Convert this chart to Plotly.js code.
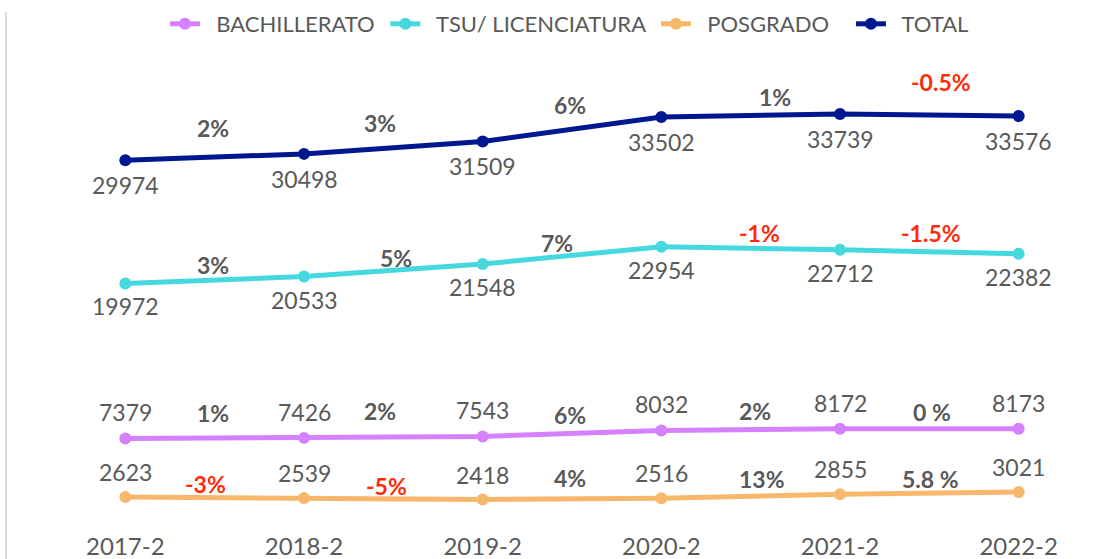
<!DOCTYPE html>
<html>
<head>
<meta charset="utf-8">
<script src="https://cdn.plot.ly/plotly-3.0.1.min.js"></script>
<style>
  html, body { margin: 0; padding: 0; background: #fff; }
  #chart { width: 1110px; height: 559px; position: relative; }
  #edge { position: absolute; left: 5px; top: 12px; width: 2px; height: 547px; background: #d9d9d9; }
</style>
</head>
<body>
<div id="chart"></div>
<div id="edge"></div>
<script>
// ---- data ----
const periods = ["2017-2", "2018-2", "2019-2", "2020-2", "2021-2", "2022-2"];
const bachillerato = [7379, 7426, 7543, 8032, 8172, 8173];
const licenciatura = [19972, 20533, 21548, 22954, 22712, 22382];
const posgrado = [2623, 2539, 2418, 2516, 2855, 3021];
const total = [29974, 30498, 31509, 33502, 33739, 33576];

const pctBachillerato = ["1%", "2%", "6%", "2%", "0 %"];
const pctLicenciatura = ["3%", "5%", "7%", "-1%", "-1.5%"];
const pctPosgrado = ["-3%", "-5%", "4%", "13%", "5.8 %"];
const pctTotal = ["2%", "3%", "6%", "1%", "-0.5%"];

const names = ["BACHILLERATO", "TSU/ LICENCIATURA", "POSGRADO", "TOTAL"];

// ---- styles ----
const FONT = "Lato, 'Open Sans', sans-serif";
const GRAY = "#595959";
const RED = "#FF2A0A";
const NB = "\u00a0";
const legendPad = [[2, 1], [2, 1], [2, 3], [2, 0]];

function series(idx, y, color) {
  return {
    type: "scatter", mode: "lines+markers",
    name: NB.repeat(legendPad[idx][0]) + names[idx] + NB.repeat(legendPad[idx][1]),
    x: periods, y: y,
    line: { color: color, width: 5 },
    marker: { color: color, size: 12 },
    cliponaxis: false, hoverinfo: "skip"
  };
}

const data = [
  series(0, bachillerato, "#D580FF"),
  series(1, licenciatura, "#45D9DF"),
  series(2, posgrado, "#F8B86C"),
  series(3, total, "#00188F")
];

const annotations = [];

// value labels
function addValues(vals, dy) {
  vals.forEach((v, i) => {
    annotations.push({
      xref: "x", yref: "y", x: periods[i], y: v, yshift: dy,
      text: String(v), showarrow: false,
      font: { family: FONT, size: 23, color: GRAY }
    });
  });
}
addValues(total, -25);
addValues(licenciatura, -23);
addValues(bachillerato, 26);
addValues(posgrado, 25);

// label offsets (pixels) for the % annotations
const shifts = {
  total: { dx: [-2, -13, -2, 24, 12], dy: [29, 25, 24, 18, 33] },
  lic:   { dx: [-2, 3, -15, 9, 2],    dy: [15, 12, 12, 15, 19] },
  bach:  { dx: [-2, -13, -2, 4, 3],   dy: [25, 26, 18, 19, 17] },
  pos:   { dx: [-9, -7, -2, 11, 1],   dy: [14, 13, 21, 17, 14] }
};

function addPct(labels, vals, sh) {
  labels.forEach((t, i) => {
    annotations.push({
      xref: "x", yref: "y",
      x: i + 0.5, y: (vals[i] + vals[i + 1]) / 2,
      xshift: sh.dx[i], yshift: sh.dy[i],
      text: "<b>" + t + "</b>", showarrow: false,
      font: { family: FONT, size: 23, color: t.trim().startsWith("-") ? RED : GRAY }
    });
  });
}
addPct(pctTotal, total, shifts.total);
addPct(pctLicenciatura, licenciatura, shifts.lic);
addPct(pctBachillerato, bachillerato, shifts.bach);
addPct(pctPosgrado, posgrado, shifts.pos);

const layout = {
  width: 1110, height: 559,
  margin: { l: 36, r: 2, t: 50, b: 29 },
  paper_bgcolor: "#fff", plot_bgcolor: "#fff",
  showlegend: true,
  legend: {
    orientation: "h", xref: "container", yref: "container",
    x: 165 / 1110, xanchor: "left", y: 1 - 3 / 559, yanchor: "top",
    font: { family: FONT, size: 22, color: GRAY },
    itemclick: false
  },
  xaxis: {
    type: "category", range: [-0.5, 5.5],
    showgrid: false, zeroline: false, showline: false, ticks: "",
    tickfont: { family: FONT, size: 24, color: GRAY }
  },
  yaxis: {
    range: [-58, 38937], visible: false, showgrid: false, zeroline: false
  },
  annotations: annotations
};

Plotly.newPlot("chart", data, layout, { displayModeBar: false, staticPlot: true });
</script>
</body>
</html>
